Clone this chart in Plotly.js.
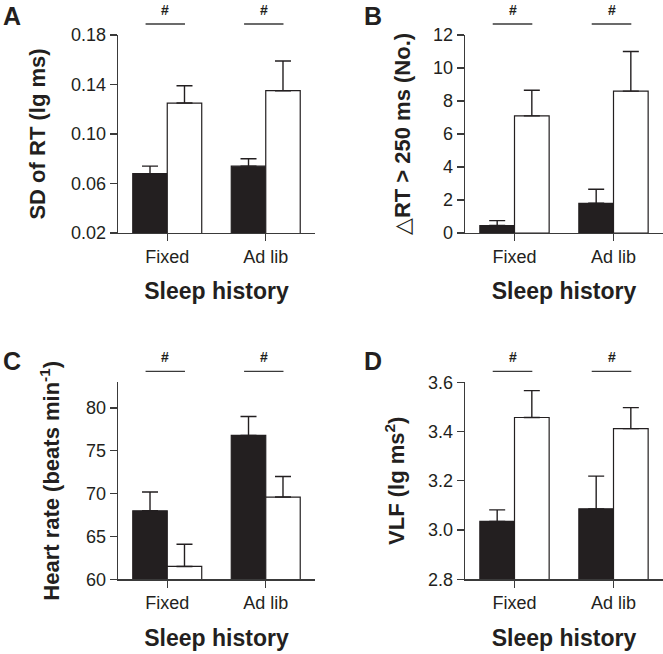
<!DOCTYPE html>
<html>
<head>
<meta charset="utf-8">
<script src="https://cdn.plot.ly/plotly-3.0.1.min.js"></script>
<style>html,body{margin:0;padding:0;background:#fff;}#chart{width:663px;height:654px;}</style>
</head>
<body>
<div id="chart"></div>
<script>
// ---- data ----
const categories = ['Fixed', 'Ad lib'];

// Panel A: SD of RT (lg ms)
const sdBlack = [0.068, 0.074];
const sdBlackErr = [0.006, 0.006];
const sdWhite = [0.125, 0.135];
const sdWhiteErr = [0.014, 0.024];

// Panel B: ΔRT > 250 ms (No.)
const lapBlack = [0.45, 1.8];
const lapBlackErr = [0.3, 0.85];
const lapWhite = [7.1, 8.6];
const lapWhiteErr = [1.55, 2.4];

// Panel C: Heart rate (beats/min)
const hrBlack = [68.0, 76.8];
const hrBlackErr = [2.2, 2.2];
const hrWhite = [61.5, 69.6];
const hrWhiteErr = [2.6, 2.4];

// Panel D: VLF (lg ms^2)
const vlfBlack = [3.035, 3.086];
const vlfBlackErr = [0.047, 0.133];
const vlfWhite = [3.457, 3.412];
const vlfWhiteErr = [0.109, 0.085];

const panelLabels = ['A', 'B', 'C', 'D'];
const sigMark = '#';

// ---- styling ----
const FONT = 'Liberation Sans, Arial, sans-serif';
const INK = '#231f20';
const AX = '#3a3a3a';

function barPair(xa, ya, blk, blkE, wht, whtE) {
  const common = (vals, errs, fill, name) => ({
    type: 'bar', x: categories, y: vals, name: name,
    xaxis: xa, yaxis: ya,
    marker: {color: fill, line: {color: INK, width: 1.2}},
    error_y: {type: 'data', symmetric: false, array: errs, arrayminus: errs.map(() => 0),
              color: INK, thickness: 1.4, width: 8},
    showlegend: false, hoverinfo: 'y'
  });
  return [common(blk, blkE, INK, 'black'), common(wht, whtE, '#ffffff', 'white')];
}

const traces = [].concat(
  barPair('x', 'y', sdBlack, sdBlackErr, sdWhite, sdWhiteErr),
  barPair('x2', 'y2', lapBlack, lapBlackErr, lapWhite, lapWhiteErr),
  barPair('x3', 'y3', hrBlack, hrBlackErr, hrWhite, hrWhiteErr),
  barPair('x4', 'y4', vlfBlack, vlfBlackErr, vlfWhite, vlfWhiteErr)
);

const W = 663, H = 654;
const colDomains = [[118 / W, 315 / W], [465 / W, 1.0]];
const rowDomains = [[1 - 233 / H, 1 - 35 / H], [1 - 579.3 / H, 1 - 382.3 / H]];

function xAxis(col, row, anchor) {
  return {
    domain: colDomains[col], anchor: anchor, type: 'category',
    range: [-0.5, 1.5],
    showline: true, linecolor: AX, linewidth: 1.3,
    ticks: 'outside', ticklen: 7, tickwidth: 1.3, tickcolor: AX,
    showgrid: false, zeroline: false,
    tickfont: {family: FONT, size: 18, color: INK},
    title: {text: 'Sleep history', font: {family: FONT, size: 23, color: INK, weight: 'bold'}, standoff: 17},
    fixedrange: true
  };
}
function yAxis(col, row, anchor, range, dtick, fmt, title, standoff) {
  return {
    domain: rowDomains[row], anchor: anchor,
    range: range, tick0: range[0], dtick: dtick, tickformat: fmt,
    showline: true, linecolor: AX, linewidth: 1.3,
    ticks: 'outside', ticklen: 7, tickwidth: 1.3, tickcolor: AX,
    showgrid: false, zeroline: false,
    tickfont: {family: FONT, size: 18, color: INK},
    title: {text: title, font: {family: FONT, size: 22, color: INK, weight: 'bold'}, standoff: standoff},
    fixedrange: true
  };
}

const layout = {
  width: W, height: H,
  margin: {l: 0, r: 0, t: 0, b: 0},
  paper_bgcolor: '#ffffff', plot_bgcolor: '#ffffff',
  barmode: 'group', bargap: 0.3, bargroupgap: 0,
  font: {family: FONT, color: INK},
  xaxis: xAxis(0, 0, 'y'),
  xaxis2: xAxis(1, 0, 'y2'),
  xaxis3: xAxis(0, 1, 'y3'),
  xaxis4: xAxis(1, 1, 'y4'),
  yaxis: yAxis(0, 0, 'x', [0.02, 0.18], 0.04, '.2f', 'SD of RT (lg ms)', 19),
  yaxis2: yAxis(1, 0, 'x2', [0, 12], 2, 'd', '<span style="font-weight:normal">△</span>RT > 250 ms (No.)', 16),
  yaxis3: yAxis(0, 1, 'x3', [60, 83], 5, 'd', 'Heart rate (beats min<sup>-1</sup>)', 20),
  yaxis4: yAxis(1, 1, 'x4', [2.8, 3.6], 0.2, '.1f', 'VLF (lg ms<sup>2</sup>)', 17),
  shapes: [],
  annotations: []
};

// significance bars + '#'
const axisIds = ['', '2', '3', '4'];
axisIds.forEach((id, k) => {
  const plotH = 198;
  for (let c = 0; c < categories.length; c++) {
    layout.shapes.push({
      type: 'line', xref: 'x' + id + ' domain', yref: 'y' + id + ' domain',
      x0: (c - 0.22 + 0.5) / 2, x1: (c + 0.18 + 0.5) / 2,
      y0: 1 + 11 / plotH, y1: 1 + 11 / plotH,
      line: {color: AX, width: 1.3}
    });
    layout.annotations.push({
      xref: 'x' + id + ' domain', yref: 'y' + id + ' domain',
      x: (c - 0.02 + 0.5) / 2, y: 1 + 25 / plotH,
      text: '<b>' + sigMark + '</b>', showarrow: false,
      font: {family: FONT, size: 14, color: INK}, xanchor: 'center', yanchor: 'middle'
    });
  }
});

// panel letters
const letterPos = [[1, 16], [362, 16], [1, 361], [362, 361]];
panelLabels.forEach((t, i) => {
  layout.annotations.push({
    xref: 'paper', yref: 'paper', x: letterPos[i][0] / W, y: 1 - letterPos[i][1] / H,
    text: '<b>' + t + '</b>', showarrow: false, xanchor: 'left', yanchor: 'middle',
    font: {family: FONT, size: 25, color: INK}
  });
});

Plotly.newPlot('chart', traces, layout, {staticPlot: true, displayModeBar: false});
</script>
</body>
</html>
